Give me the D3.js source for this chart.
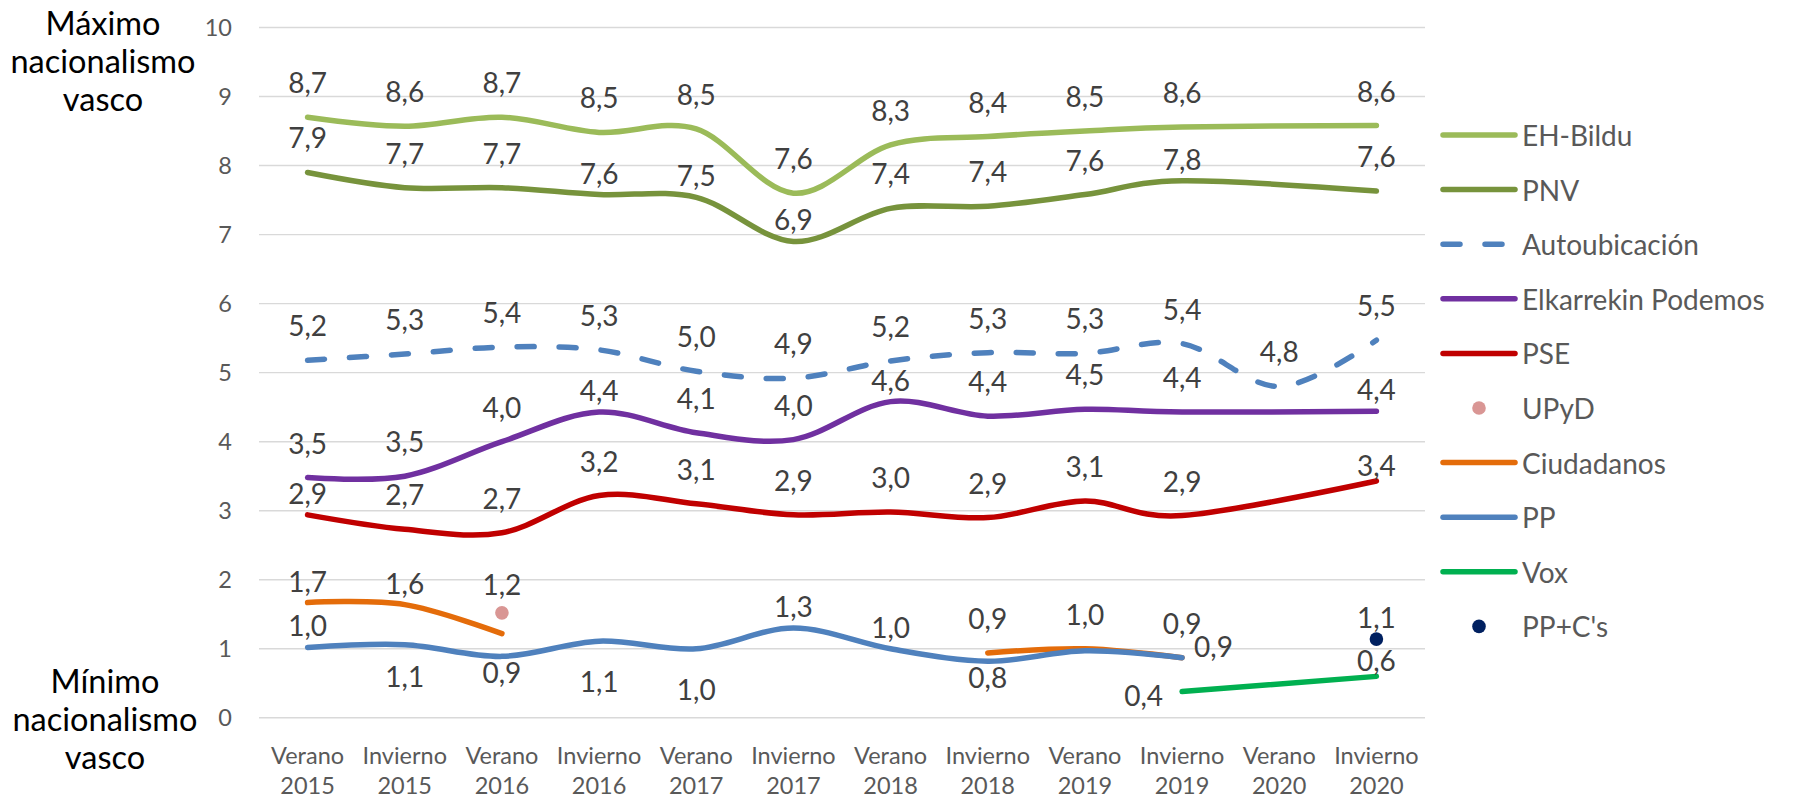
<!DOCTYPE html>
<html><head><meta charset="utf-8">
<script src="https://cdn.jsdelivr.net/npm/d3@7"></script>
<style>
body{margin:0;background:#fff;}
svg{display:block;font-family:Lato,"Open Sans",sans-serif;}
</style>
</head><body>
<svg id="chart" width="1795" height="799"></svg>
<script>
// ---------- data ----------
const categories = ["Verano|2015","Invierno|2015","Verano|2016","Invierno|2016","Verano|2017","Invierno|2017",
                    "Verano|2018","Invierno|2018","Verano|2019","Invierno|2019","Verano|2020","Invierno|2020"];
const yTicks = [0,1,2,3,4,5,6,7,8,9,10];
const seriesNames = ["EH-Bildu","PNV","Autoubicación","Elkarrekin Podemos","PSE","UPyD","Ciudadanos","PP","Vox","PP+C's"];

const ehBildu       = [8.7, 8.57, 8.7, 8.48, 8.53, 7.6, 8.3, 8.42, 8.5, 8.56, null, 8.58];
const pnv           = [7.9, 7.68, 7.68, 7.58, 7.54, 6.9, 7.38, 7.41, 7.58, 7.78, null, 7.63];
const autoubicacion = [5.18, 5.27, 5.37, 5.33, 5.02, 4.92, 5.17, 5.29, 5.28, 5.42, 4.8, 5.47];
const elkarrekin    = [3.48, 3.5, 4.0, 4.43, 4.13, 4.03, 4.58, 4.37, 4.47, 4.43, null, 4.44];
const pse           = [2.94, 2.73, 2.68, 3.22, 3.1, 2.94, 2.98, 2.9, 3.14, 2.93, null, 3.43];
const upyd          = [null, null, 1.52, null, null, null, null, null, null, null, null, null];
const ciudadanos    = [1.67, 1.64, 1.22, null, null, null, null, 0.94, 1.0, 0.87, null, null];
const pp            = [1.02, 1.06, 0.89, 1.11, 1.0, 1.3, 1.0, 0.82, 0.97, 0.87, null, null];
const vox           = [null, null, null, null, null, null, null, null, null, 0.38, null, 0.6];
const ppCs          = [null, null, null, null, null, null, null, null, null, null, null, 1.14];

// label placement codes (t above, T close above, S very close above, U far above,
// b below, B close below, D far below, r right, l left, "" none)
const ehBilduLab = ["t","t","t","t","t","t","t","t","t","t","","t"];
const pnvLab     = ["t","t","t","T","T","T","t","t","t","T","","t"];
const autoLab    = ["t","t","t","t","t","t","t","t","t","t","t","t"];
const elkLab     = ["t","t","t","T","t","t","T","t","t","t","","T"];
const pseLab     = ["T","t","t","t","t","t","t","t","t","t","","S"];
const upydLab    = ["","","","","","","","","","","",""];
const csLab      = ["T","T","U","","","","","t","t","r","",""];
const ppLab      = ["T","b","B","D","D","T","T","B","","t","",""];
const voxLab     = ["","","","","","","","","","l","","S"];
const ppCsLab    = ["","","","","","","","","","","","T"];

// ---------- series table ----------
const series = [
  {name: seriesNames[0], values: ehBildu, labels: ehBilduLab, color:"#9BBB59", type:"line"},
  {name: seriesNames[1], values: pnv, labels: pnvLab, color:"#77933C", type:"line"},
  {name: seriesNames[2], values: autoubicacion, labels: autoLab, color:"#4F81BD", type:"line", dash:"17,25"},
  {name: seriesNames[3], values: elkarrekin, labels: elkLab, color:"#7030A0", type:"line"},
  {name: seriesNames[4], values: pse, labels: pseLab, color:"#C00000", type:"line"},
  {name: seriesNames[5], values: upyd, labels: upydLab, color:"#D99694", type:"dot"},
  {name: seriesNames[6], values: ciudadanos, labels: csLab, color:"#E46C0A", type:"line"},
  {name: seriesNames[7], values: pp, labels: ppLab, color:"#4F81BD", type:"line"},
  {name: seriesNames[8], values: vox, labels: voxLab, color:"#00B050", type:"line"},
  {name: seriesNames[9], values: ppCs, labels: ppCsLab, color:"#002060", type:"dot"}
];

// ---------- layout ----------
const svg = d3.select("#chart");
const plot = {left: 259, right: 1425, top: 27.5, bottom: 717.8};
const x = d3.scaleBand().domain(categories).range([plot.left, plot.right]);
const y = d3.scaleLinear().domain([0, 10]).range([plot.bottom, plot.top]);
const cx = i => x(categories[i]) + x.bandwidth()/2;
const fmt = v => d3.format(".1f")(v).replace(".", ",");

// gridlines
svg.append("g").selectAll("line").data(yTicks).join("line")
  .attr("x1", plot.left).attr("x2", plot.right)
  .attr("y1", d => y(d)).attr("y2", d => y(d))
  .attr("stroke", "#D9D9D9").attr("stroke-width", 1.4);

// y axis
const yAxis = svg.append("g").attr("transform", `translate(${plot.left},0)`)
  .call(d3.axisLeft(y).tickValues(yTicks).tickSize(0).tickPadding(27).tickFormat(d3.format("d")));
yAxis.select(".domain").remove();
yAxis.selectAll("text").attr("fill", "#595959").style("font-size", "23.5px").style("font-family", "Lato");

// x axis
const xAxis = svg.append("g").attr("transform", `translate(0,${plot.bottom})`)
  .call(d3.axisBottom(x).tickSize(0).tickFormat(""));
xAxis.select(".domain").remove();
xAxis.selectAll(".tick").each(function(d){
  const parts = d.split("|");
  const t = d3.select(this).append("text").attr("fill", "#595959")
    .attr("text-anchor", "middle").style("font-size", "23.5px").style("font-family", "Lato");
  t.append("tspan").attr("x", 0).attr("y", 37).attr("dominant-baseline", "central").text(parts[0]);
  t.append("tspan").attr("x", 0).attr("y", 67).attr("dominant-baseline", "central").text(parts[1]);
});

// lines
const lineGen = d3.line().x(d => cx(d.i)).y(d => y(d.v)).curve(d3.curveCardinal.tension(0));
function segments(values){
  const pts = values.map((v,i) => ({i, v})).filter(d => d.v !== null);
  const segs = [];
  let cur = [];
  pts.forEach(p => {
    if (cur.length && p.i - cur[cur.length-1].i > 2) { segs.push(cur); cur = []; }
    cur.push(p);
  });
  if (cur.length) segs.push(cur);
  return segs;
}
const gLines = svg.append("g");
series.forEach(s => {
  if (s.type === "line") {
    segments(s.values).filter(seg => seg.length > 1).forEach(seg => {
      gLines.append("path").attr("d", lineGen(seg)).attr("fill", "none")
        .attr("stroke", s.color).attr("stroke-width", 5.5)
        .attr("stroke-linecap", "round").attr("stroke-linejoin", "round")
        .attr("stroke-dasharray", s.dash || null);
    });
  } else {
    s.values.forEach((v,i) => {
      if (v === null) return;
      gLines.append("circle").attr("cx", cx(i)).attr("cy", y(v)).attr("r", 6.8).attr("fill", s.color);
    });
  }
});

// data labels
const offsets = {t:-35, T:-22, S:-16, U:-50, b:31, B:16, D:40};
const gLab = svg.append("g").style("font-size", "28px").style("font-family", "Lato").attr("fill", "#404040");
series.forEach(s => {
  s.values.forEach((v,i) => {
    const code = s.labels[i];
    if (v === null || !code) return;
    let px = cx(i), py = y(v), anchor = "middle";
    if (code === "r") { px += 12; py -= 12; anchor = "start"; }
    else if (code === "l") { px -= 19; py += 3; anchor = "end"; }
    else py += offsets[code];
    gLab.append("text").attr("x", px).attr("y", py).attr("text-anchor", anchor)
      .attr("dominant-baseline", "central").text(fmt(v));
  });
});

// legend
const leg = svg.append("g");
const legX1 = 1443, legX2 = 1515, legY0 = 135, legDy = 54.6;
series.forEach((s, k) => {
  const yy = legY0 + k*legDy;
  if (s.type === "line") {
    leg.append("line").attr("x1", legX1).attr("x2", legX2).attr("y1", yy).attr("y2", yy)
      .attr("stroke", s.color).attr("stroke-width", 5.5).attr("stroke-linecap", "round")
      .attr("stroke-dasharray", s.dash || null);
  } else {
    leg.append("circle").attr("cx", (legX1+legX2)/2).attr("cy", yy).attr("r", 6.8).attr("fill", s.color);
  }
  leg.append("text").attr("x", 1522).attr("y", yy).attr("dominant-baseline", "central")
    .attr("fill", "#595959").style("font-size", "28px").style("font-family", "Lato").text(s.name);
});

// side titles
const titleTop = ["Máximo", "nacionalismo", "vasco"];
const titleBottom = ["Mínimo", "nacionalismo", "vasco"];
const gT = svg.append("g").attr("text-anchor", "middle").attr("fill", "#000")
  .style("font-size", "32.5px").style("font-family", "Lato");
titleTop.forEach((t, k) => gT.append("text").attr("x", 103).attr("y", 22 + k*38).attr("dominant-baseline", "central").text(t));
titleBottom.forEach((t, k) => gT.append("text").attr("x", 105).attr("y", 680 + k*38).attr("dominant-baseline", "central").text(t));
</script>
</body></html>
